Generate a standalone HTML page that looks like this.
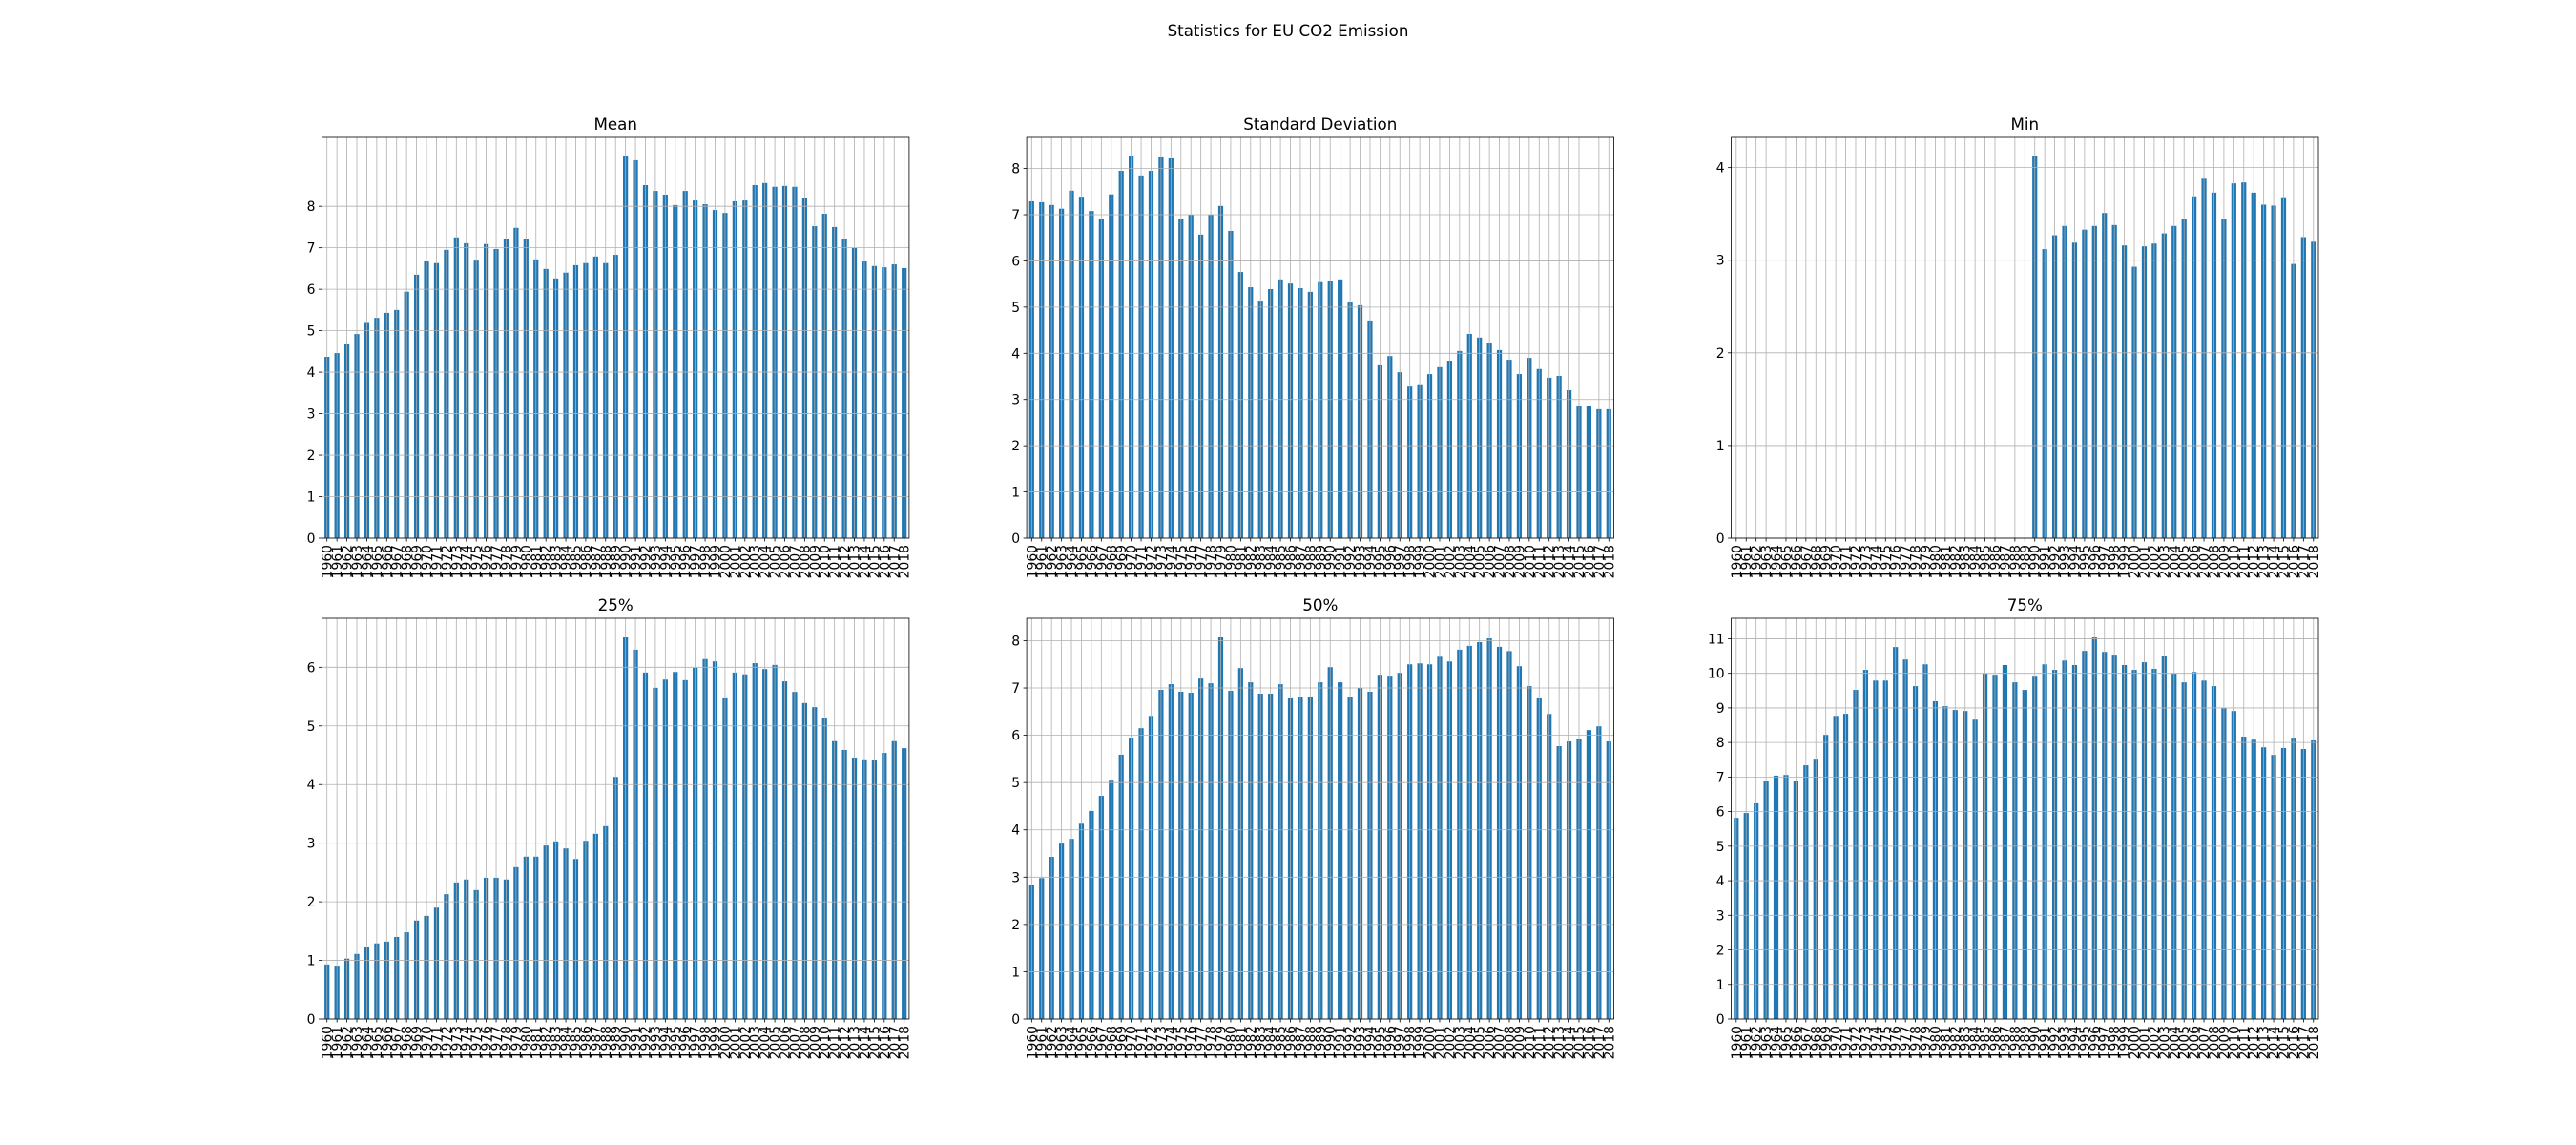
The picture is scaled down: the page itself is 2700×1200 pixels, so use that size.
<!DOCTYPE html>
<html><head><meta charset="utf-8"><style>
html,body{margin:0;padding:0;background:#fff}
svg{display:block;font-family:"DejaVu Sans","Liberation Sans",sans-serif}
</style></head><body>
<svg id="fig" width="2700" height="1200" viewBox="0 0 2700 1200" xmlns="http://www.w3.org/2000/svg">
<rect width="2700" height="1200" fill="#fff"/>
<text x="1350" y="38" text-anchor="middle" font-size="16.7" fill="#000">Statistics for EU CO2 Emission</text>
</svg>
<script>
const years = [];
for (let y = 1960; y <= 2018; y++) years.push(String(y));
const meanValues = [4.37,4.46,4.67,4.92,5.21,5.31,5.43,5.50,5.94,6.35,6.67,6.63,6.95,7.25,7.11,6.69,7.09,6.97,7.22,7.48,7.22,6.72,6.49,6.26,6.40,6.58,6.63,6.79,6.63,6.83,9.20,9.11,8.51,8.37,8.28,8.03,8.37,8.14,8.05,7.91,7.84,8.12,8.14,8.51,8.56,8.47,8.49,8.47,8.19,7.52,7.82,7.50,7.20,7.00,6.67,6.56,6.53,6.60,6.51];
const stdValues = [7.29,7.27,7.21,7.13,7.52,7.39,7.08,6.90,7.44,7.95,8.26,7.85,7.95,8.24,8.22,6.90,7.00,6.57,7.00,7.19,6.65,5.76,5.43,5.14,5.39,5.60,5.51,5.41,5.33,5.54,5.56,5.60,5.10,5.04,4.71,3.74,3.94,3.59,3.28,3.33,3.55,3.70,3.84,4.05,4.42,4.34,4.23,4.07,3.86,3.55,3.90,3.66,3.47,3.51,3.20,2.87,2.85,2.79,2.79];
const minValues = [null,null,null,null,null,null,null,null,null,null,null,null,null,null,null,null,null,null,null,null,null,null,null,null,null,null,null,null,null,null,4.12,3.12,3.27,3.37,3.19,3.33,3.37,3.51,3.38,3.16,2.93,3.15,3.18,3.29,3.37,3.45,3.69,3.88,3.73,3.44,3.83,3.84,3.73,3.60,3.59,3.68,2.96,3.25,3.20];
const q25Values = [0.93,0.91,1.03,1.11,1.22,1.29,1.32,1.40,1.48,1.68,1.76,1.90,2.13,2.33,2.38,2.20,2.41,2.41,2.38,2.59,2.77,2.77,2.96,3.03,2.91,2.73,3.04,3.16,3.29,4.13,6.51,6.30,5.91,5.65,5.79,5.92,5.78,5.99,6.14,6.10,5.47,5.91,5.88,6.07,5.97,6.04,5.76,5.58,5.39,5.32,5.14,4.74,4.59,4.46,4.43,4.41,4.54,4.74,4.62];
const q50Values = [2.84,2.98,3.43,3.71,3.81,4.13,4.40,4.72,5.06,5.59,5.95,6.15,6.41,6.96,7.08,6.92,6.90,7.20,7.10,8.07,6.94,7.42,7.12,6.88,6.88,7.08,6.78,6.80,6.82,7.12,7.44,7.12,6.80,7.00,6.92,7.28,7.26,7.32,7.50,7.52,7.50,7.66,7.56,7.81,7.89,7.97,8.05,7.87,7.78,7.46,7.04,6.78,6.45,5.77,5.87,5.93,6.11,6.19,5.87];
const q75Values = [5.82,5.96,6.24,6.90,7.04,7.06,6.90,7.34,7.53,8.22,8.77,8.83,9.52,10.10,9.79,9.79,10.76,10.40,9.63,10.26,9.19,9.05,8.94,8.91,8.66,9.99,9.96,10.24,9.74,9.52,9.93,10.26,10.10,10.37,10.24,10.65,11.04,10.62,10.54,10.24,10.10,10.32,10.13,10.51,9.99,9.74,10.04,9.79,9.63,8.99,8.91,8.17,8.08,7.86,7.64,7.84,8.14,7.81,8.06];
const panelTitles = ["Mean","Standard Deviation","Min","25%","50%","75%"];
const meanTicks = [0,1,2,3,4,5,6,7,8];
const stdTicks = [0,1,2,3,4,5,6,7,8];
const minTicks = [0,1,2,3,4];
const q25Ticks = [0,1,2,3,4,5,6];
const q50Ticks = [0,1,2,3,4,5,6,7,8];
const q75Ticks = [0,1,2,3,4,5,6,7,8,9,10,11];

const NS = "http://www.w3.org/2000/svg";
const svg = document.getElementById('fig');
function mk(tag, attrs, parent) {
  const e = document.createElementNS(NS, tag);
  for (const k in attrs) e.setAttribute(k, attrs[k]);
  (parent || svg).appendChild(e);
  return e;
}
const W = 615.4, H = 420;
const lefts = [337.5, 1076.1, 1814.6], tops = [144, 648];
const series = [meanValues, stdValues, minValues, q25Values, q50Values, q75Values];
const ticksList = [meanTicks, stdTicks, minTicks, q25Ticks, q50Ticks, q75Ticks];
const slugs = ["mean","std","min","q25","q50","q75"];

series.forEach((vals, p) => {
  const x0 = lefts[p % 3], y0 = tops[Math.floor(p / 3)];
  const g = mk('g', {});
  
  
  const n = years.length;
  const maxV = Math.max(...vals.filter(v => v !== null));
  const yMax = maxV * 1.05;
  const xs = i => x0 + (i + 0.5) / n * W;
  const ys = v => y0 + H - v / yMax * H;
  // bars
  vals.forEach((v, i) => {
    if (v === null) return;
    const bw = 0.5 / n * W;
    const r = mk('rect', {x: xs(i) - bw / 2, y: ys(v), width: bw, height: ys(0) - ys(v), fill: '#1f77b4'}, g);
    
    
  });
  // grid
  years.forEach((yr, i) => {
    mk('line', {x1: xs(i), x2: xs(i), y1: y0, y2: y0 + H, stroke: '#b0b0b0', 'stroke-width': 0.8}, g);
  });
  ticksList[p].forEach(t => {
    mk('line', {x1: x0, x2: x0 + W, y1: ys(t), y2: ys(t), stroke: '#b0b0b0', 'stroke-width': 0.8}, g);
    mk('line', {x1: x0 - 3.5, x2: x0, y1: ys(t), y2: ys(t), stroke: '#000', 'stroke-width': 0.8}, g);
    const tl = mk('text', {x: x0 - 7, y: ys(t) + 5, 'text-anchor': 'end', 'font-size': 13.9, fill: '#000'}, g);
    tl.textContent = String(t);
    
    
  });
  years.forEach((yr, i) => {
    const x = xs(i);
    mk('line', {x1: x, x2: x, y1: y0 + H, y2: y0 + H + 3.5, stroke: '#000', 'stroke-width': 0.8}, g);
    const tl = mk('text', {x: 0, y: 0, 'text-anchor': 'end', 'font-size': 13.9, fill: '#000',
      transform: 'translate(' + (x + 5) + ',' + (y0 + H + 7) + ') rotate(-90)'}, g);
    tl.textContent = yr;
    
    
  });
  const fr = mk('rect', {x: x0, y: y0, width: W, height: H, fill: 'none', stroke: '#000', 'stroke-width': 0.8}, g);
  
  
  const tt = mk('text', {x: x0 + W / 2, y: y0 - 8, 'text-anchor': 'middle', 'font-size': 16.7, fill: '#000'}, g);
  tt.textContent = panelTitles[p];
  
  
});
</script>
</body></html>
